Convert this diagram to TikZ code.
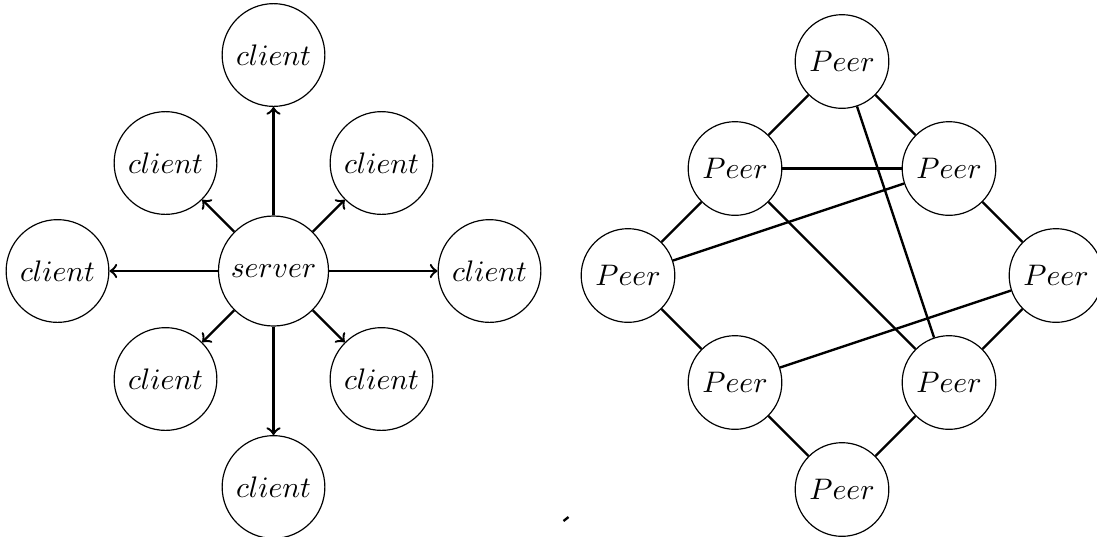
\documentclass[tikz,border=0pt]{standalone}
\begin{document}
\begin{tikzpicture}[x=0.3367pt,y=-0.3367pt,
  host/.style={circle,draw,thin,fill=white},
  link/.style={thick},
  flow/.style={thick,->}]
\useasboundingbox (0,0) rectangle (1097,536);

% client-server star
\node[host] (srv) at (273.5,271) {$server$};
\node[host] (cN)  at (273.5,55)  {$client$};
\node[host] (cS)  at (273.5,487) {$client$};
\node[host] (cW)  at (57.5,271)  {$client$};
\node[host] (cE)  at (489.5,271) {$client$};
\node[host] (cNW) at (165.5,163) {$client$};
\node[host] (cNE) at (381.5,163) {$client$};
\node[host] (cSW) at (165.5,379) {$client$};
\node[host] (cSE) at (381.5,379) {$client$};
\foreach \c in {cN,cS,cW,cE,cNW,cNE,cSW,cSE}
  \draw[flow] (srv) -- (\c);

% peer-to-peer mesh
\node[host] (pT)  at (842,61.5)   {$Peer$};
\node[host] (pUL) at (735,168.5)  {$Peer$};
\node[host] (pUR) at (949,168.5)  {$Peer$};
\node[host] (pL)  at (628,275.5)  {$Peer$};
\node[host] (pR)  at (1056,275.5) {$Peer$};
\node[host] (pLL) at (735,382.5)  {$Peer$};
\node[host] (pLR) at (949,382.5)  {$Peer$};
\node[host] (pB)  at (842,489.5)  {$Peer$};
\foreach \a/\b in {pT/pUL,pT/pUR,pT/pLR,pUL/pUR,pUL/pL,pUL/pLR,pUR/pL,
                   pUR/pR,pL/pLL,pR/pLL,pR/pLR,pLL/pB,pLR/pB}
  \draw[link] (\a) -- (\b);

% stray tick mark
\draw[thick] (563.5,521) -- (568.5,517);
\end{tikzpicture}
\end{document}
